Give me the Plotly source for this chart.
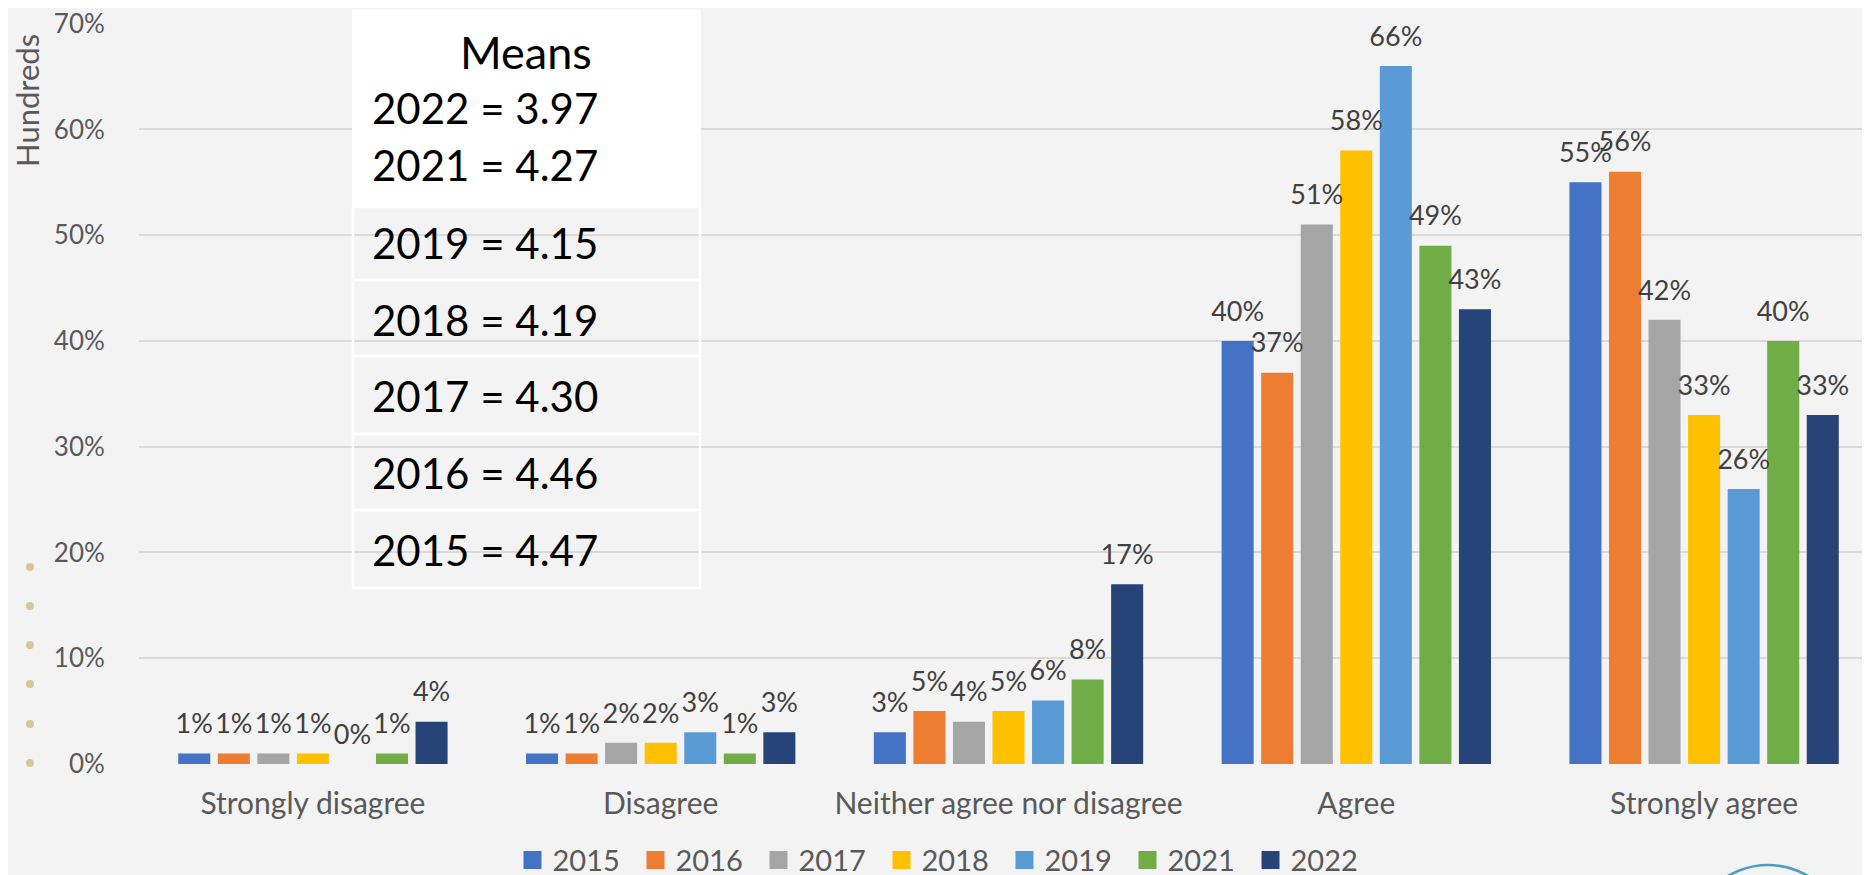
import plotly.graph_objects as go

categories = ["Strongly disagree", "Disagree", "Neither agree nor disagree", "Agree", "Strongly agree"]
years = ["2015", "2016", "2017", "2018", "2019", "2021", "2022"]
v2015 = [1, 1, 3, 40, 55]
v2016 = [1, 1, 5, 37, 56]
v2017 = [1, 2, 4, 51, 42]
v2018 = [1, 2, 5, 58, 33]
v2019 = [0, 3, 6, 66, 26]
v2021 = [1, 1, 8, 49, 40]
v2022 = [4, 3, 17, 43, 33]
series = [v2015, v2016, v2017, v2018, v2019, v2021, v2022]
colors = ["#4472C4", "#ED7D31", "#A5A5A5", "#FFC000", "#5B9BD5", "#70AD47", "#264478"]

y_tick_values = [0, 10, 20, 30, 40, 50, 60, 70]
y_tick_labels = ["0%", "10%", "20%", "30%", "40%", "50%", "60%", "70%"]

means_title = "Means"
means_years = ["2022", "2021", "2019", "2018", "2017", "2016", "2015"]
means_values = ["3.97", "4.27", "4.15", "4.19", "4.30", "4.46", "4.47"]

y_title = "Hundreds"

W, H = 1870, 875
L, R, T, B = 131, 0, 15, 119
PW, PH = W - L - R, H - T - B
BARGAP = 0.204
FONT = "Lato"


def px(x):
    return (x - L) / PW


def py(y):
    return (H - B - y) / PH


fig = go.Figure()
for yr, vals, col in zip(years, series, colors):
    fig.add_trace(go.Bar(
        name=yr, x=categories, y=vals, marker=dict(color=col, line=dict(width=0)),
        showlegend=False, hoverinfo="x+y", offsetgroup=yr,
    ))
for yr, vals, col in zip(years, series, colors):
    # data labels, aligned with the bars through scatter group mode
    fig.add_trace(go.Scatter(
        x=categories, y=vals, mode="markers+text", text=[f"{v}%" for v in vals],
        textposition="top center", textfont=dict(family=FONT, size=27, color="#404040"),
        marker=dict(size=20, color="rgba(0,0,0,0)", line=dict(width=0)),
        showlegend=False, hoverinfo="skip", offsetgroup=yr, cliponaxis=False,
    ))
for yr, col in zip(years, colors):
    # legend entries (square swatches)
    fig.add_trace(go.Scatter(
        x=[None], y=[None], mode="markers", name=yr, offsetgroup=yr,
        marker=dict(symbol="square", size=16, color=col, line=dict(width=2, color=col)),
        showlegend=True,
    ))

shapes = []
annotations = []
# Means box: white top part
shapes.append(dict(type="rect", xref="paper", yref="paper",
                   x0=px(344), x1=px(693), y0=py(199), y1=py(1.5),
                   fillcolor="white", line=dict(width=0), layer="above"))
# table rows (transparent with white borders)
row_edges = [199, 272, 348, 426, 502, 579]
shapes.append(dict(type="rect", xref="paper", yref="paper",
                   x0=px(345), x1=px(692), y0=py(580), y1=py(199),
                   fillcolor="rgba(0,0,0,0)", line=dict(width=2.5, color="white"), layer="above"))
for yy in row_edges[1:-1]:
    shapes.append(dict(type="line", xref="paper", yref="paper",
                       x0=px(345), x1=px(692), y0=py(yy), y1=py(yy),
                       line=dict(width=3, color="white"), layer="above"))
annotations.append(dict(text=means_title, xref="paper", yref="paper", x=px(518), y=py(44),
                        showarrow=False, xanchor="center", yanchor="middle",
                        font=dict(family=FONT, size=45, color="black")))
text_y = [100, 157, 235, 312, 388, 465, 542]
for yr, mv, yy in zip(means_years, means_values, text_y):
    annotations.append(dict(text=f"{yr} = {mv}", xref="paper", yref="paper", x=px(362), y=py(yy),
                            showarrow=False, xanchor="left", yanchor="middle",
                            font=dict(family=FONT, size=42, color="black")))

annotations.append(dict(text=y_title, xref="paper", yref="paper", x=px(19), y=py(92),
                        showarrow=False, textangle=-90, xanchor="center", yanchor="middle",
                        font=dict(family=FONT, size=31, color="#595959")))

# decorative dots at left edge
for yy in [559, 598, 637, 676, 716, 755]:
    shapes.append(dict(type="circle", xref="paper", yref="paper",
                       x0=px(18), x1=px(26), y0=py(yy + 4), y1=py(yy - 4),
                       fillcolor="#D6C799", line=dict(width=0), layer="above"))
# partial logo at bottom-right
shapes.append(dict(type="circle", xref="paper", yref="paper",
                   x0=px(1682), x1=px(1838), y0=py(1013), y1=py(857),
                   fillcolor="rgba(0,0,0,0)", line=dict(width=2.5, color="#4A9EC4"), layer="above"))

fig.update_layout(
    width=W, height=H,
    margin=dict(l=L, r=R, t=T, b=B, autoexpand=False),
    paper_bgcolor="#F3F3F3", plot_bgcolor="#F3F3F3",
    barmode="group", bargap=BARGAP, bargroupgap=0.19,
    scattermode="group", scattergap=BARGAP,
    font=dict(family=FONT, color="#595959"),
    showlegend=True,
    legend=dict(orientation="h", xref="container", yref="container", x=0.5, y=0.026,
                xanchor="center", yanchor="middle", entrywidth=78,
                font=dict(family=FONT, size=29, color="#595959"),
                bgcolor="rgba(0,0,0,0)", traceorder="normal", itemsizing="trace"),
    xaxis=dict(showgrid=False, showline=False, zeroline=False, ticks="outside", ticklen=13,
               tickcolor="rgba(0,0,0,0)", tickfont=dict(family=FONT, size=30, color="#595959")),
    yaxis=dict(range=[0, 70.06], tickmode="array", tickvals=y_tick_values, ticktext=y_tick_labels,
               showgrid=True, gridcolor="#D9D9D9", ticklabeloverflow="allow",
               gridwidth=2, zeroline=False, showline=False, ticks="outside", ticklen=28,
               tickcolor="rgba(0,0,0,0)", tickfont=dict(family=FONT, size=26, color="#595959")),
    shapes=shapes, annotations=annotations,
)
fig.write_html("out.html")
